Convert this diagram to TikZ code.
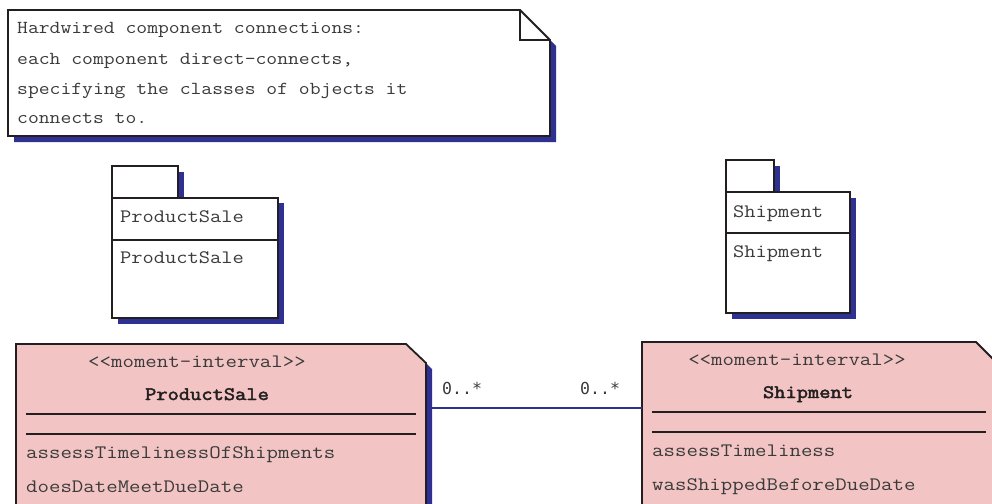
\documentclass[tikz,border=0pt]{standalone}
\usepackage{fontspec}
\newfontfamily\cour{Latin Modern Mono}[FakeStretch=1.15]
\newfontfamily\courwide{Latin Modern Mono}[FakeStretch=1.17]
\newfontfamily\courbold{Latin Modern Mono}[FakeStretch=1.15,FakeBold=2.5]
\newfontfamily\multfont{DejaVu Sans Mono}
\definecolor{navy}{HTML}{2E3192}
\definecolor{pinkfill}{HTML}{F2C4C4}
\definecolor{ink}{HTML}{231F20}
\definecolor{txt}{HTML}{3A3A3A}
\begin{document}
\begin{tikzpicture}[x=1pt,y=-1pt,
  outline/.style={draw=ink, line width=1.8pt, line join=miter},
  shadowfill/.style={fill=navy, draw=none},
  divider/.style={draw=ink, line width=1.8pt},
  notetext/.style={font=\fontsize{18.3}{18.3}\selectfont\cour, text=txt, inner sep=0pt, anchor=base west},
  mono/.style={font=\fontsize{19}{19}\selectfont\cour, text=txt, inner sep=0pt, anchor=base west},
  monow/.style={font=\fontsize{19}{19}\selectfont\courwide, text=txt, inner sep=0pt, anchor=base west},
  monoc/.style={font=\fontsize{19}{19}\selectfont\courwide, text=txt, inner sep=0pt, anchor=base},
  boldc/.style={font=\fontsize{19}{19}\selectfont\courbold, text=ink, inner sep=0pt, anchor=base},
  mult/.style={font=\fontsize{16.5}{16.5}\selectfont\multfont, text=txt, inner sep=0pt, anchor=base west},
  connector/.style={draw=navy, line width=1.8pt}]
\clip (0,0) rectangle (992,503);
\fill[white] (0,0) rectangle (992,503);

% ---- note ----
\fill[shadowfill] (14,16) -- (526,16) -- (556,46) -- (556,142) -- (14,142) -- cycle;
\filldraw[outline, fill=white] (8,10) -- (520,10) -- (550,40) -- (550,136) -- (8,136) -- cycle;
\draw[outline] (520,10) -- (520,40) -- (550,40);
\node[notetext] (n1) at (17,34) {Hardwired component connections:};
\node[notetext] (n2) at (17,64) {each component direct-connects,};
\node[notetext] (n3) at (17,94) {specifying the classes of objects it};
\node[notetext] (n4) at (17,123) {connects to.};

% ---- package ProductSale ----
\fill[shadowfill] (118,172) rectangle (184,203);
\fill[shadowfill] (118,203) rectangle (284,324);
\filldraw[outline, fill=white] (112,166) rectangle (178,198);
\filldraw[outline, fill=white] (112,198) rectangle (278,318);
\draw[divider] (112,240) -- (278,240);
\node[mono] (p1) at (120,222) {ProductSale};
\node[mono] (p2) at (120,263) {ProductSale};

% ---- package Shipment ----
\fill[shadowfill] (732,166) rectangle (780,198);
\fill[shadowfill] (732,198) rectangle (856,319);
\filldraw[outline, fill=white] (726,160) rectangle (774,192);
\filldraw[outline, fill=white] (726,192) rectangle (850,313);
\draw[divider] (726,233) -- (850,233);
\node[mono] (s1) at (733,217) {Shipment};
\node[mono] (s2) at (733,257) {Shipment};

% ---- class ProductSale ----
\fill[shadowfill] (22,350) -- (412,350) -- (432,369) -- (432,510) -- (22,510) -- cycle;
\filldraw[outline, fill=pinkfill] (16,510) -- (16,344) -- (406,344) -- (426,363) -- (426,510);
\draw[divider] (26,414) -- (416,414);
\draw[divider] (26,434) -- (416,434);
\node[monoc] (c1st) at (197,367) {<{}<moment-interval>{}>};
\node[boldc] (c1name) at (207,400) {ProductSale};
\node[monow] (c1op1) at (26,458) {assessTimelinessOfShipments};
\node[monow] (c1op2) at (26,492) {doesDateMeetDueDate};
\coordinate (psR) at (432,408);

% ---- class Shipment ----
\filldraw[outline, fill=pinkfill] (642,510) -- (642,342) -- (976,342) -- (997,363) -- (997,510);
\draw[divider] (652,412) -- (986,412);
\draw[divider] (652,432) -- (986,432);
\node[monoc] (c2st) at (797,365) {<{}<moment-interval>{}>};
\node[boldc] (c2name) at (808,398) {Shipment};
\node[monow] (c2op1) at (652,456) {assessTimeliness};
\node[monow] (c2op2) at (652,490) {wasShippedBeforeDueDate};
\coordinate (shL) at (642,408);

% ---- association ----
\draw[connector] (psR) -- (shL);
\node[mult] (m1) at (442,394) {0..*};
\node[mult] (m2) at (580,394) {0..*};
\end{tikzpicture}
\end{document}
